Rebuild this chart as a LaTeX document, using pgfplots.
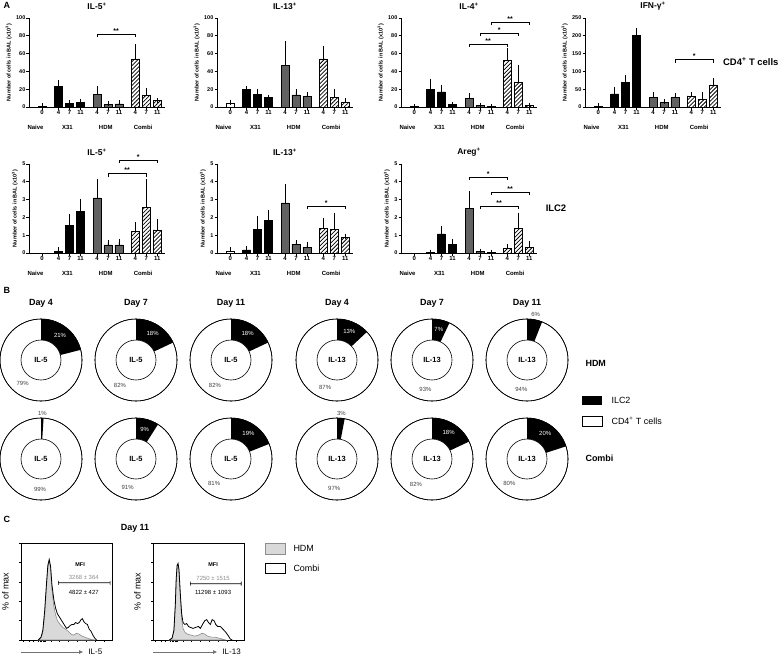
\documentclass[border=0pt]{standalone}
\usepackage{fontspec}
\setmainfont{Liberation Sans}
\usepackage{pgfplots}
\pgfplotsset{compat=1.18}
\usetikzlibrary{patterns.meta,arrows.meta}

\newcommand{\fs}[1]{\fontsize{#1}{#1}\selectfont}

\pgfplotsset{
  errs/.style={error bars/.cd, y dir=plus, y explicit,
    error bar style={black, line width=0.6pt},
    error mark options={black, line width=0.6pt, mark size=2.5bp}},
  onebar/.style={ybar, bar width=8bp, draw=black, line width=0.6pt},
  nv/.style={onebar, fill=white, errs},
  xt/.style={onebar, fill=black, errs},
  hd/.style={onebar, fill=black!62, errs},
  cb/.style={onebar, fill=white,
    postaction={pattern={Lines[angle=45,distance=2.8bp,line width=0.75bp]}}, errs},
  bars/.style={
    scale only axis, width=136bp, height=89bp, anchor=south west,
    xmin=-1.2, xmax=11.2, ymin=0,
    axis x line*=bottom, axis y line*=left,
    axis line style={line width=0.8pt, -},
    tick style={black, line width=0.8pt},
    tick align=outside, major tick length=2.5bp,
    xtick={0,1.5,2.5,3.5,5,6,7,8.5,9.5,10.5},
    xticklabels={0,4,7,11,4,7,11,4,7,11},
    xticklabel style={font=\fs{6}\bfseries, inner sep=1bp},
    yticklabel style={font=\fs{5.5}\bfseries, inner sep=1bp},
    /pgf/number format/assume math mode=true,
    ylabel={Number of cells in BAL (x10\textsuperscript{3})},
    ylabel style={font=\fs{5.5}\bfseries},
    clip=false,
  },
  hist/.style={
    scale only axis, width=91bp, height=97bp, anchor=south west,
    xmin=0, xmax=100, ymin=0, ymax=100,
    axis line style={line width=0.8pt},
    tick style={black, line width=0.5pt},
    tick align=outside, major tick length=2bp,
    xtick pos=bottom, ytick pos=left,
    xtick={3,9,14,19,21,22.5,24,25.5,27,33,42,52,62,72,82,92},
    ytick={0,20,...,100},
    xticklabels={}, yticklabels={},
    ylabel={\% of max}, ylabel style={font=\fs{9}},
    clip=false,
  },
}

% significance bracket: x1, x2, y, stars
\newcommand{\sig}[4]{\draw[line width=0.6pt] (axis cs:#1,#3) ++(0bp,-3bp) -- ++(0bp,3bp)
  -- node[above, inner sep=0.5bp, font=\fs{7}\bfseries]{#4} (axis cs:#2,#3) -- ++(0bp,-3bp);}
\newcommand{\grp}{%
  \node[font=\fs{6}\bfseries, yshift=-20bp] at (axis cs:-0.6,0) {Naive};
  \node[font=\fs{6}\bfseries, yshift=-20bp] at (axis cs:2.3,0) {X31};
  \node[font=\fs{6}\bfseries, yshift=-20bp] at (axis cs:5.8,0) {HDM};
  \node[font=\fs{6}\bfseries, yshift=-20bp] at (axis cs:9.2,0) {Combi};}
\newcommand{\ttl}[1]{\node[font=\fs{8.5}\bfseries, yshift=12bp] at (rel axis cs:0.5,1) {#1};}

% donut: cx, cy, ILC2 %, name, ILC2 text, label radius, label colour, CD4 text
\newcommand{\donut}[8]{%
  \filldraw[fill=white, draw=black, line width=0.6pt, shift={(axis cs:#1,#2)}] (0bp,0bp) circle[radius=41bp];
  \fill[black, shift={(axis cs:#1,#2)}] (90:41bp) arc[start angle=90, end angle={90-3.6*#3}, radius=41bp]
    -- ({90-3.6*#3}:20bp) arc[start angle={90-3.6*#3}, end angle=90, radius=20bp] -- cycle;
  \draw[line width=0.6pt, shift={(axis cs:#1,#2)}] (0bp,0bp) circle[radius=41bp];
  \filldraw[fill=white, draw=black, line width=0.6pt, shift={(axis cs:#1,#2)}] (0bp,0bp) circle[radius=20bp];
  \node[font=\fs{7.5}\bfseries] at (axis cs:#1,#2) {#4};
  \node[font=\fs{6}, text=#7, shift={(axis cs:#1,#2)}] at ({90-1.8*#3}:#6) {#5\%};
  \node[font=\fs{6}, text=black!75, shift={(axis cs:#1,#2)}] at ({-90-1.8*#3}:30bp) {#8\%};}

\begin{document}
\begin{tikzpicture}
\useasboundingbox (0,0) rectangle (782bp,-657bp);

% ---------------- Panel A, CD4+ T cells ----------------
\node[font=\fs{9}\bfseries, anchor=west] at (0bp,-5bp) {A};

\begin{axis}[bars, at={(29bp,-107bp)}, ymax=100, ytick={0,20,...,100}]
\addplot[nv] coordinates {(0,0.8) +- (0,0.4)};
\addplot[xt] coordinates {(1.5,23) +- (0,5) (2.5,4) +- (0,1.5) (3.5,5.5) +- (0,1)};
\addplot[hd] coordinates {(5,14.5) +- (0,6.5) (6,2.5) +- (0,1) (7,3.5) +- (0,1)};
\addplot[cb] coordinates {(8.5,54) +- (0,14) (9.5,13.5) +- (0,4.5) (10.5,7) +- (0,0.5)};
\sig{5}{8.5}{82}{**}
\grp \ttl{IL-5\textsuperscript{+}}
\end{axis}

\begin{axis}[bars, at={(217bp,-107bp)}, ymax=100, ytick={0,20,...,100}]
\addplot[nv] coordinates {(0,4) +- (0,1.5)};
\addplot[xt] coordinates {(1.5,19.5) +- (0,1.5) (2.5,14) +- (0,3.5) (3.5,10.5) +- (0,0.5)};
\addplot[hd] coordinates {(5,47) +- (0,24) (6,13.5) +- (0,3.5) (7,11.5) +- (0,2)};
\addplot[cb] coordinates {(8.5,54) +- (0,12) (9.5,11) +- (0,6.5) (10.5,5.5) +- (0,1.5)};
\grp \ttl{IL-13\textsuperscript{+}}
\end{axis}

\begin{axis}[bars, at={(401bp,-107bp)}, ymax=100, ytick={0,20,...,100}]
\addplot[nv] coordinates {(0,0.5) +- (0,0.3)};
\addplot[xt] coordinates {(1.5,20) +- (0,9) (2.5,17) +- (0,5) (3.5,2.5) +- (0,0.5)};
\addplot[hd] coordinates {(5,9.5) +- (0,3) (6,1.5) +- (0,0.5) (7,0.5) +- (0,0.3)};
\addplot[cb] coordinates {(8.5,52) +- (0,11.5) (9.5,27.5) +- (0,17) (10.5,1.5) +- (0,0.5)};
\sig{5}{8.5}{71}{**}
\sig{6}{9.5}{83}{*}
\sig{7}{10.5}{95}{**}
\grp \ttl{IL-4\textsuperscript{+}}
\end{axis}

\begin{axis}[bars, at={(585bp,-107bp)}, ymax=250, ytick={0,50,...,250}]
\addplot[nv] coordinates {(0,3) +- (0,1)};
\addplot[xt] coordinates {(1.5,37) +- (0,13) (2.5,69) +- (0,14) (3.5,202) +- (0,13)};
\addplot[hd] coordinates {(5,28) +- (0,8) (6,13) +- (0,3) (7,26) +- (0,6)};
\addplot[cb] coordinates {(8.5,31) +- (0,5) (9.5,22) +- (0,13) (10.5,62) +- (0,12)};
\sig{7}{10.5}{133}{*}
\grp \ttl{IFN-γ\textsuperscript{+}}
\end{axis}

\node[font=\fs{9.5}\bfseries, anchor=east] at (782bp,-62bp) {CD4\textsuperscript{+} T cells};

% ---------------- Panel A, ILC2 ----------------
\begin{axis}[bars, at={(29bp,-253bp)}, ymax=5, ytick={0,...,5}]
\addplot[xt] coordinates {(1.5,0.1) +- (0,0.07) (2.5,1.55) +- (0,0.5) (3.5,2.32) +- (0,0.55)};
\addplot[hd] coordinates {(5,3.1) +- (0,0.92) (6,0.45) +- (0,0.13) (7,0.45) +- (0,0.17)};
\addplot[cb] coordinates {(8.5,1.22) +- (0,0.38) (9.5,2.58) +- (0,1.42) (10.5,1.3) +- (0,0.48)};
\sig{6}{9.5}{4.45}{**}
\sig{7}{10.5}{5.2}{*}
\grp \ttl{IL-5\textsuperscript{+}}
\end{axis}

\begin{axis}[bars, at={(217bp,-253bp)}, ymax=5, ytick={0,...,5}]
\addplot[nv] coordinates {(0,0.1) +- (0,0.08)};
\addplot[xt] coordinates {(1.5,0.18) +- (0,0.08) (2.5,1.33) +- (0,0.6) (3.5,1.85) +- (0,0.43)};
\addplot[hd] coordinates {(5,2.82) +- (0,0.9) (6,0.5) +- (0,0.1) (7,0.33) +- (0,0.13)};
\addplot[cb] coordinates {(8.5,1.38) +- (0,0.47) (9.5,1.32) +- (0,0.78) (10.5,0.87) +- (0,0.08)};
\sig{7}{10.5}{2.62}{*}
\grp \ttl{IL-13\textsuperscript{+}}
\end{axis}

\begin{axis}[bars, at={(401bp,-253bp)}, ymax=5, ytick={0,...,5}]
\addplot[xt] coordinates {(1.5,0.03) +- (0,0.02) (2.5,1.07) +- (0,0.32) (3.5,0.5) +- (0,0.15)};
\addplot[hd] coordinates {(5,2.52) +- (0,0.82) (6,0.08) +- (0,0.03) (7,0.02) +- (0,0.01)};
\addplot[cb] coordinates {(8.5,0.27) +- (0,0.12) (9.5,1.4) +- (0,0.72) (10.5,0.33) +- (0,0.18)};
\sig{5}{8.5}{4.25}{*}
\sig{7}{10.5}{3.43}{**}
\sig{6}{9.5}{2.62}{**}
\grp \ttl{Areg\textsuperscript{+}}
\end{axis}

\node[font=\fs{9.5}\bfseries] at (556bp,-208bp) {ILC2};

% ---------------- Panel B ----------------
\node[font=\fs{9}\bfseries, anchor=west] at (0bp,-290bp) {B};
\foreach \x/\d in {41/4, 136/7, 231/11, 337/4, 432/7, 527/11}
  \node[font=\fs{9}\bfseries] at (\x bp,-303bp) {Day \d};

\begin{axis}[at={(0bp,-657bp)}, anchor=south west, scale only axis,
  width=782bp, height=657bp, xmin=0, xmax=782, ymin=0, ymax=657,
  y dir=reverse, hide axis, clip=false]
\donut{41}{360}{21}{IL-5}{21}{31bp}{white}{79}
\donut{136}{360}{18}{IL-5}{18}{31bp}{white}{82}
\donut{231}{360}{18}{IL-5}{18}{31bp}{white}{82}
\donut{337}{360}{13}{IL-13}{13}{31bp}{white}{87}
\donut{432}{360}{7}{IL-13}{7}{31bp}{white}{93}
\donut{527}{360}{6}{IL-13}{6}{46bp}{black!75}{94}
\donut{41}{459}{1}{IL-5}{1}{46bp}{black!75}{99}
\donut{136}{459}{9}{IL-5}{9}{31bp}{white}{91}
\donut{231}{459}{19}{IL-5}{19}{31bp}{white}{81}
\donut{337}{459}{3}{IL-13}{3}{46bp}{black!75}{97}
\donut{432}{459}{18}{IL-13}{18}{31bp}{white}{82}
\donut{527}{459}{20}{IL-13}{20}{31bp}{white}{80}
\end{axis}

\node[font=\fs{9}\bfseries, anchor=west] at (582bp,-363bp) {HDM};
\node[font=\fs{9}\bfseries, anchor=west] at (582bp,-458bp) {Combi};
\fill[black] (582bp,-396bp) rectangle (602bp,-405bp);
\node[font=\fs{9}, anchor=west] at (608bp,-400bp) {ILC2};
\draw[line width=0.6pt, fill=white] (582bp,-416bp) rectangle (602bp,-426bp);
\node[font=\fs{9}, anchor=west] at (608bp,-421bp) {CD4\textsuperscript{+} T cells};

% ---------------- Panel C ----------------
\node[font=\fs{9}\bfseries, anchor=west] at (0bp,-519bp) {C};
\node[font=\fs{9}\bfseries] at (135bp,-528bp) {Day 11};

\begin{axis}[hist, at={(21bp,-640bp)}]
\addplot[fill=black!15, draw=black!45, line width=0.6pt] coordinates {
(19,0) (22,2) (24,8) (26,25) (28,55) (29.5,75) (31,82) (32.5,74) (34,52) (36,35)
(38,26) (40,20) (43,16) (46,13) (49,11) (52,9) (55,6) (58,5) (61,7) (64,6)
(67,4) (70,3) (74,1.5) (78,0.5) (82,0)} \closedcycle;
\addplot[black, line width=0.8pt] coordinates {
(19,0) (22,3) (24,10) (26,30) (28,58) (29.5,77) (31,83) (32.5,76) (34,57) (36,42)
(38,33) (40,27) (42,24) (44,21) (46,18) (48,15) (50,12) (52,13) (54,15) (56,16)
(58,16) (60,18) (62,17) (64,18) (66,21) (67.5,22) (69,19) (71,17) (73,16) (75,11)
(77,9) (79,5) (81,2) (83,0)};
\node[font=\fs{5.5}\bfseries] at (axis cs:65,78) {MFI};
\node[font=\fs{6}, text=black!45] at (axis cs:69,64) {3268 ± 364};
\draw[line width=0.6pt] (axis cs:41,59) ++(0bp,2bp) -- ++(0bp,-4bp) ++(0bp,2bp) -- (axis cs:98,59) ++(0bp,2bp) -- ++(0bp,-4bp);
\node[font=\fs{6}] at (axis cs:69,49.5) {4822 ± 427};
\end{axis}
\draw[black!55, line width=0.8pt, -{Triangle[length=4bp,width=3.5bp]}] (21bp,-652bp) -- (83bp,-652bp);
\node[font=\fs{8}, anchor=west] at (85bp,-652bp) {IL-5};

\begin{axis}[hist, at={(153bp,-640bp)}]
\addplot[fill=black!15, draw=black!45, line width=0.6pt] coordinates {
(18,0) (21,2) (23,10) (24.5,35) (25.5,62) (26.5,76) (27.5,78) (28.5,72) (30,45) (31.5,22)
(33,12) (35,8) (38,6) (42,5) (46,4) (50,5) (54,7) (57,6) (60,4) (64,3)
(68,3) (72,2) (76,1) (80,0)} \closedcycle;
\addplot[black, line width=0.8pt] coordinates {
(18,0) (21,2) (23,10) (24.5,36) (25.5,63) (26.5,77) (27.5,79) (28.5,73) (30,48) (31.5,27)
(33,18) (35,16) (37,17) (39,14) (41,13) (44,12) (47,13) (50,14) (52,12) (55,17)
(57,20) (59,21) (61,18) (63,16) (65,21) (67,20) (69,16) (71,14) (74,14) (77,11)
(80,8) (83,4) (85,1) (87,0)};
\node[font=\fs{5.5}\bfseries] at (axis cs:66,78) {MFI};
\node[font=\fs{6}, text=black!45] at (axis cs:66,63) {7250 ± 1515};
\draw[line width=0.6pt] (axis cs:41,58) ++(0bp,2bp) -- ++(0bp,-4bp) ++(0bp,2bp) -- (axis cs:97,58) ++(0bp,2bp) -- ++(0bp,-4bp);
\node[font=\fs{6}] at (axis cs:66,49.5) {11298 ± 1093};
\end{axis}
\draw[black!55, line width=0.8pt, -{Triangle[length=4bp,width=3.5bp]}] (153bp,-652bp) -- (217bp,-652bp);
\node[font=\fs{8}, anchor=west] at (219bp,-652bp) {IL-13};

\fill[black!15, draw=black!45, line width=0.6pt] (265bp,-543bp) rectangle (285bp,-554bp);
\node[font=\fs{9}, anchor=west] at (290bp,-548.5bp) {HDM};
\draw[line width=0.6pt, fill=white] (265bp,-563bp) rectangle (285bp,-573bp);
\node[font=\fs{9}, anchor=west] at (290bp,-568bp) {Combi};

\end{tikzpicture}
\end{document}
